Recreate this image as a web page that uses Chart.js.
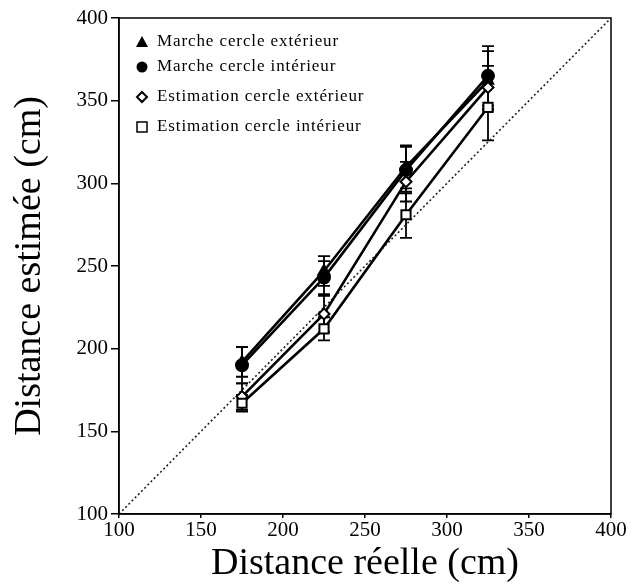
<!DOCTYPE html>
<html>
<head>
<meta charset="utf-8">
<script src="https://cdn.jsdelivr.net/npm/chart.js@4"></script>
<style>
html,body{margin:0;padding:0;background:#fff;}
#wrap{width:637px;height:587px;}
</style>
</head>
<body>
<div id="wrap"><canvas id="c" width="637" height="587"></canvas></div>
<script>
const xValues = [175, 225, 275, 325];
const seriesLabels = ["Marche cercle extérieur", "Marche cercle intérieur", "Estimation cercle extérieur", "Estimation cercle intérieur"];
const marcheExt = [192, 247, 310, 362];
const marcheInt = [190, 243, 308, 365];
const estimExt = [171, 221, 301, 358];
const estimInt = [167, 212, 281, 346];
const errMarcheExt = [9, 9, 13, 18];
const errMarcheInt = [11, 10, 14, 18];
const errEstimExt = [8, 11, 12, 13];
const errEstimInt = [5, 7, 14, 20];
const diagonal = [100, 400];
const axisTicks = [100, 150, 200, 250, 300, 350, 400];

const FONT = "'Liberation Serif', 'Times New Roman', serif";

function pts(ys){ return xValues.map((x,i)=>({x:x,y:ys[i]})); }

const styles = [
  {pointStyle:'triangle', bg:'#000', r:6},
  {pointStyle:'circle', bg:'#000', r:6},
  {pointStyle:'rectRot', bg:'#fff', r:5.5},
  {pointStyle:'rect', bg:'#fff', r:6.5}
];
const allSeries = [marcheExt, marcheInt, estimExt, estimInt];
const allErr = [errMarcheExt, errMarcheInt, errEstimExt, errEstimInt];

const datasets = [{
  label: 'diag',
  data: diagonal.map(v=>({x:v,y:v})),
  showLine: true,
  borderColor: '#222',
  borderWidth: 1.6,
  borderDash: [2,2.5],
  pointRadius: 0,
  order: 10
}];
allSeries.forEach((s,i)=>{
  datasets.push({
    label: seriesLabels[i],
    data: pts(s),
    errors: allErr[i],
    showLine: true,
    borderColor: '#000',
    borderWidth: 2.6,
    backgroundColor: styles[i].bg,
    pointBackgroundColor: styles[i].bg,
    pointBorderColor: '#000',
    pointBorderWidth: 2,
    pointStyle: styles[i].pointStyle,
    pointRadius: styles[i].r,
    order: 5 - i
  });
});

const errorBars = {
  id: 'errorBars',
  beforeDatasetsDraw(chart){
    const ctx = chart.ctx, xs = chart.scales.x, ys = chart.scales.y;
    ctx.save();
    ctx.strokeStyle = '#000';
    ctx.lineWidth = 1.8;
    chart.data.datasets.forEach(ds=>{
      if(!ds.errors) return;
      ds.data.forEach((p,i)=>{
        const e = ds.errors[i];
        const px = xs.getPixelForValue(p.x);
        const top = ys.getPixelForValue(p.y + e);
        const bot = ys.getPixelForValue(p.y - e);
        ctx.beginPath();
        ctx.moveTo(px, top); ctx.lineTo(px, bot);
        ctx.moveTo(px-6, top); ctx.lineTo(px+6, top);
        ctx.moveTo(px-6, bot); ctx.lineTo(px+6, bot);
        ctx.stroke();
      });
    });
    ctx.restore();
  }
};

const boxAndLegend = {
  id: 'boxAndLegend',
  afterDraw(chart){
    const ctx = chart.ctx, a = chart.chartArea;
    ctx.save();
    ctx.strokeStyle = '#000';
    ctx.lineWidth = 1.5;
    ctx.strokeRect(a.left, a.top, a.right - a.left, a.bottom - a.top);
    // legend
    const rows = [42, 67, 97, 127];
    const sx = a.left + 23, tx = a.left + 38;
    ctx.font = "17px " + FONT;
    try { ctx.letterSpacing = '0.9px'; } catch(e) {}
    ctx.fillStyle = '#000';
    ctx.textBaseline = 'middle';
    rows.forEach((ry,i)=>{
      ctx.fillStyle = '#000';
      ctx.fillText(seriesLabels[i], tx, ry);
      ctx.lineWidth = 2;
      ctx.beginPath();
      if(i===0){
        ctx.moveTo(sx, ry-6); ctx.lineTo(sx+6, ry+5); ctx.lineTo(sx-6, ry+5); ctx.closePath();
        ctx.fill();
      } else if(i===1){
        ctx.arc(sx, ry, 5.5, 0, Math.PI*2); ctx.fill();
      } else if(i===2){
        ctx.moveTo(sx, ry-5); ctx.lineTo(sx+5, ry); ctx.lineTo(sx, ry+5); ctx.lineTo(sx-5, ry); ctx.closePath();
        ctx.fillStyle='#fff'; ctx.fill(); ctx.stroke();
      } else {
        ctx.lineWidth = 1.5;
        ctx.rect(sx-5, ry-5, 10, 10);
        ctx.fillStyle='#fff'; ctx.fill(); ctx.stroke();
      }
    });
    ctx.restore();
  }
};

function axisOpts(titleText, isY){
  return {
    type: 'linear',
    min: 100, max: 400,
    afterBuildTicks(scale){ scale.ticks = axisTicks.map(v=>({value:v})); },
    afterFit(scale){ if(isY) scale.width = 119; else scale.height = 73; },
    grid: { display: true, drawOnChartArea: false, drawTicks: true, tickLength: isY ? 8 : 4, color: '#000', lineWidth: 1.5 },
    border: { display: true, color: '#000', width: 1.5 },
    ticks: { color: '#000', font: { family: FONT, size: 21 }, padding: isY ? 3 : 0, maxRotation: 0 },
    title: {
      display: true, text: titleText, color: '#000',
      font: { family: FONT, size: 38 },
      padding: isY ? { top: 7, bottom: 0 } : { top: 0, bottom: 0 }
    }
  };
}

new Chart(document.getElementById('c'), {
  type: 'scatter',
  data: { datasets },
  options: {
    responsive: false,
    animation: false,
    devicePixelRatio: 1,
    layout: { padding: { top: 18, right: 26, left: 0, bottom: 0 } },
    plugins: { legend: { display: false }, tooltip: { enabled: false } },
    scales: {
      x: axisOpts('Distance réelle (cm)', false),
      y: axisOpts('Distance estimée (cm)', true)
    }
  },
  plugins: [errorBars, boxAndLegend]
});
</script>
</body>
</html>
